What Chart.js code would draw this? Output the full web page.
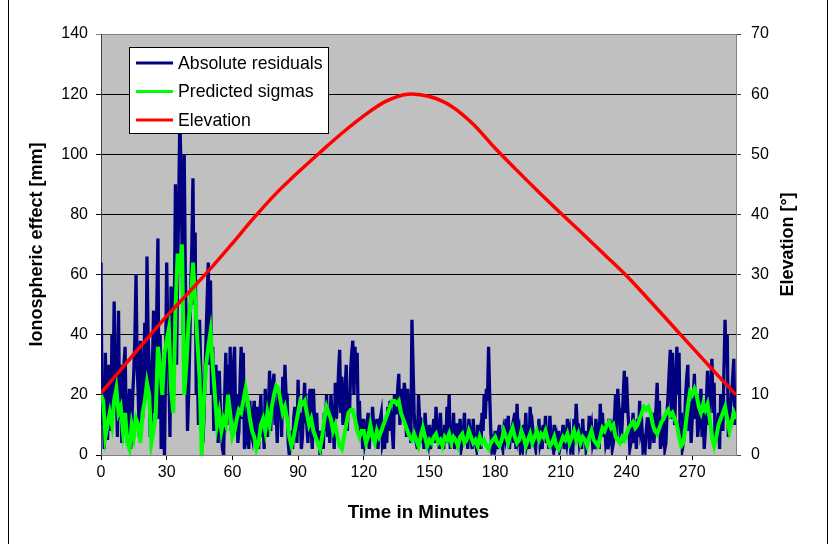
<!DOCTYPE html>
<html><head><meta charset="utf-8">
<script src="https://cdn.jsdelivr.net/npm/chart.js@4.4.0/dist/chart.umd.min.js"></script>
<style>html,body{margin:0;padding:0;background:#fff;}</style>
</head><body>
<canvas id="c" width="835" height="544"></canvas>
<script>
// ---- data ----
// residuals: one value on each whole minute, plus one on each half minute
const residualsOnMinute = [
 64,18,34,5,26,40,51,22,48,30,
 14,36,4,22,8,28,60,20,38,12,
 44,66,30,10,48,28,72,40,20,0,
 64,28,56,14,90,60,112,70,100,40,
 20,55,92,74,30,45,20,12,40,64,
 58,36,24,12,28,8,0,34,30,36,
 14,36,20,8,36,34,4,16,18,6,
 18,10,2,20,12,22,6,28,20,27,
 14,22,18,26,30,20,0,8,12,10,
 25,14,6,24,10,18,8,22,10,4,
 0,8,14,20,12,20,10,24,18,35,
 26,14,30,20,28,38,36,34,18,12,
 12,6,14,10,16,4,12,8,14,6,
 10,16,18,8,20,14,27,22,12,20,
 22,10,45,14,4,20,12,8,14,6,
 10,6,12,16,8,14,6,10,16,20,
 8,14,6,10,12,4,14,8,12,6,
 12,4,10,8,14,20,22,36,8,4,
 8,6,10,4,8,12,13,6,10,14,
 17,8,4,10,14,6,16,10,4,8,
 12,6,10,13,8,13,4,10,6,8,
 4,10,6,12,8,4,12,17,10,6,
 12,8,4,13,10,6,12,8,17,14,
 10,6,12,8,4,20,22,14,10,28,
 26,10,4,14,8,12,18,10,4,8,
 12,6,14,10,24,18,8,12,4,20,
 35,34,10,36,34,14,4,20,30,18,
 12,27,20,10,22,14,8,28,18,32,
 24,10,14,20,8,45,40,12,20,32,
 18
];
const residualsHalfMinute = [
 10,2,12,30,8,20,30,6,12,4,
 30,10,14,2,20,40,30,6,20,28,
 20,40,6,30,14,50,12,2,8,30,
 40,6,24,50,30,84,96,40,60,8,
 36,70,50,20,10,30,4,26,52,30,
 20,8,30,4,16,2,20,10,14,8,
 30,10,4,24,12,2,10,2,8,14,
 4,16,12,6,2,10,16,8,24,10,
 4,12,6,14,20,4,4,2,16,4,
 8,2,16,12,4,22,2,12,14,8,
 4,2,8,6,4,14,2,12,28,14,
 10,22,8,14,34,20,24,10,6,2,
 4,10,2,6,10,8,2,12,4,2,
 4,8,12,2,14,22,10,16,24,6,
 14,4,30,8,2,12,4,2,8,4,
 2,8,4,10,2,6,2,4,8,2,
 4,2,10,4,2,8,4,2,8,2,
 4,2,6,2,8,12,18,20,2,2,
 4,2,4,2,6,4,2,8,4,2,
 6,2,2,6,4,2,8,6,2,4,
 4,2,6,4,2,6,2,4,2,2,
 6,2,4,6,2,2,6,10,4,2,
 4,2,6,8,4,2,6,2,10,6,
 4,2,6,2,12,6,16,4,20,14,
 16,2,8,4,2,6,8,2,2,12,
 2,10,4,16,8,2,6,2,14,28,
 12,20,24,20,6,2,10,26,8,4,
 20,12,6,16,6,2,18,10,24,14,
 4,8,2,14,28,30,6,16,26,10
];
// predicted sigmas: one value per minute
const predictedSigmas = [
 20,18,6,10,14,10,18,22,14,16,
 8,14,4,2,10,6,12,10,4,14,
 18,24,20,4,8,14,36,30,20,34,
 38,42,22,14,48,67,60,70,20,30,
 44,50,64,52,38,26,0,18,30,36,
 41,30,20,10,14,8,12,10,20,14,
 6,8,12,15,14,18,22,18,12,8,
 6,2,4,10,12,8,14,10,16,20,
 23,22,18,14,16,12,6,3,6,10,
 14,18,17,18,14,10,12,8,6,4,
 2,6,12,16,14,12,8,10,6,3,
 2,6,10,14,15,15,12,8,6,8,
 8,4,6,10,6,4,8,6,8,10,
 12,14,16,18,18,17,18,14,12,10,
 8,6,5,7,5,3,6,9,6,3,
 5,4,6,7,4,5,3,6,5,7,
 4,6,5,3,6,7,4,5,8,6,
 4,5,3,6,4,5,3,2,4,5,
 6,4,3,5,8,6,4,7,9,6,
 4,5,8,6,3,5,7,4,6,8,
 5,7,6,8,5,3,4,6,3,2,
 4,6,5,7,4,6,8,5,7,4,
 6,5,3,6,8,5,4,3,6,9,
 8,10,11,9,10,6,5,4,6,5,
 7,9,10,11,9,10,12,14,16,15,
 16,14,10,8,7,9,11,12,14,15,
 13,14,12,10,6,3,4,10,16,21,
 20,22,20,16,14,17,15,17,12,6,
 3,6,10,12,14,16,12,8,11,14,
 12
];
const elevationMinutes = [0,10,20,30,40,50,60,70,80,90,100,110,120,130,140,150,160,170,180,190,200,210,220,230,240,250,260,270,280,290];
const elevationDeg = [10.3,14.6,18.9,23.1,27,31,35.2,39.5,43.5,47,50.3,53.5,56.4,58.8,60,59.6,58,55,51,47.3,43.7,40.2,36.8,33.3,29.8,25.9,21.9,17.9,13.9,10];
const xTickLabels = [0,30,60,90,120,150,180,210,240,270];
const seriesNames = ['Absolute residuals','Predicted sigmas','Elevation'];
const seriesColors = ['#000080','#00ff00','#ff0000'];

// ---- build ----
const residualPts = [];
residualsOnMinute.forEach((v,i)=>{
  residualPts.push({x:i, y:v});
  if (i < residualsHalfMinute.length) residualPts.push({x:i+0.5, y:residualsHalfMinute[i]});
});
const sigmaPts = predictedSigmas.map((v,i)=>({x:i, y:v}));
const elevPts = elevationMinutes.map((m,i)=>({x:m, y:elevationDeg[i]}));
const FONT = "'Liberation Sans', Arial, sans-serif";
const tickFont = {family: FONT, size: 16};

const decor = {
  id:'decor',
  beforeDraw(chart){
    const {ctx, chartArea:a} = chart;
    ctx.save();
    ctx.fillStyle = '#c0c0c0';
    ctx.fillRect(a.left, a.top, a.right-a.left, a.bottom-a.top);
    ctx.restore();
  },
  afterDraw(chart){
    const {ctx, chartArea:a} = chart;
    ctx.save();
    ctx.fillStyle = '#000';
    ctx.font = "bold 18px " + FONT;
    ctx.textAlign = 'center';
    ctx.textBaseline = 'middle';
    ctx.translate(788, (a.top+a.bottom)/2);
    ctx.rotate(-Math.PI/2);
    ctx.fillText('Elevation [°]', 0, 0);
    ctx.restore();
    // legend
    ctx.save();
    ctx.fillStyle = '#fff';
    ctx.fillRect(129.5, 47.5, 199, 86);
    ctx.strokeStyle = '#000';
    ctx.lineWidth = 1;
    ctx.strokeRect(129.5, 47.5, 199, 86);
    const ys = [63, 91.5, 120];
    ctx.font = "17.7px " + FONT;
    ctx.textBaseline = 'middle';
    ctx.textAlign = 'left';
    seriesNames.forEach((n,i)=>{
      ctx.strokeStyle = seriesColors[i];
      ctx.lineWidth = 3;
      ctx.beginPath(); ctx.moveTo(136, ys[i]); ctx.lineTo(173, ys[i]); ctx.stroke();
      ctx.fillStyle = '#000';
      ctx.fillText(n, 178, ys[i]+1);
    });
    ctx.restore();
    // outer frame
    ctx.save();
    ctx.strokeStyle = '#000';
    ctx.lineWidth = 1;
    ctx.beginPath();
    ctx.moveTo(8.5, 0); ctx.lineTo(8.5, 544);
    ctx.moveTo(827.5, 0); ctx.lineTo(827.5, 544);
    ctx.stroke();
    ctx.restore();
  }
};

new Chart(document.getElementById('c'), {
  type: 'line',
  data: {
    datasets: [
      {label: seriesNames[2], data: elevPts, yAxisID: 'y2', borderColor: seriesColors[2], borderWidth: 3.5, pointRadius: 0, tension: 0.3, order: 0},
      {label: seriesNames[1], data: sigmaPts, yAxisID: 'y', borderColor: seriesColors[1], borderWidth: 4, pointRadius: 0, tension: 0, order: 1},
      {label: seriesNames[0], data: residualPts, yAxisID: 'y', borderColor: seriesColors[0], borderWidth: 3.3, pointRadius: 0, tension: 0, order: 2}
    ]
  },
  options: {
    responsive: false,
    animation: false,
    devicePixelRatio: 1,
    layout: {padding: {top: 34, left: 0, right: 0, bottom: 0}},
    plugins: {legend: {display: false}, tooltip: {enabled: false}},
    scales: {
      x: {
        type: 'linear', min: 0, max: 290,
        afterBuildTicks: s => { s.ticks = xTickLabels.map(v => ({value: v})); },
        afterFit: s => { s.height = 89; },
        ticks: {color: '#000', font: tickFont, padding: 3, maxRotation: 0, autoSkip: false},
        grid: {display: true, drawOnChartArea: false, drawTicks: true, tickLength: 5, color: '#000'},
        border: {color: '#808080', width: 1},
        title: {display: true, text: 'Time in Minutes', color: '#000', font: {family: FONT, size: 18.8, weight: 'bold'}, padding: {top: 0, bottom: 20}}
      },
      y: {
        position: 'left', min: 0, max: 140,
        afterFit: s => { s.width = 101; },
        ticks: {stepSize: 20, color: '#000', font: tickFont, padding: 8},
        grid: {color: c => (c.tick && c.tick.value === 140) ? '#808080' : '#000', tickLength: 5, lineWidth: 1},
        border: {color: '#404040', width: 1},
        title: {display: true, text: 'Ionospheric effect [mm]', color: '#000', font: {family: FONT, size: 18, weight: 'bold'}, padding: {top: 26, bottom: 0}}
      },
      y2: {
        position: 'right', min: 0, max: 70,
        afterFit: s => { s.width = 99; },
        ticks: {stepSize: 10, color: '#000', font: tickFont, padding: 10},
        grid: {drawOnChartArea: false, tickLength: 5, color: '#404040'},
        border: {color: '#808080', width: 1}
      }
    }
  },
  plugins: [decor]
});
</script>
</body></html>
